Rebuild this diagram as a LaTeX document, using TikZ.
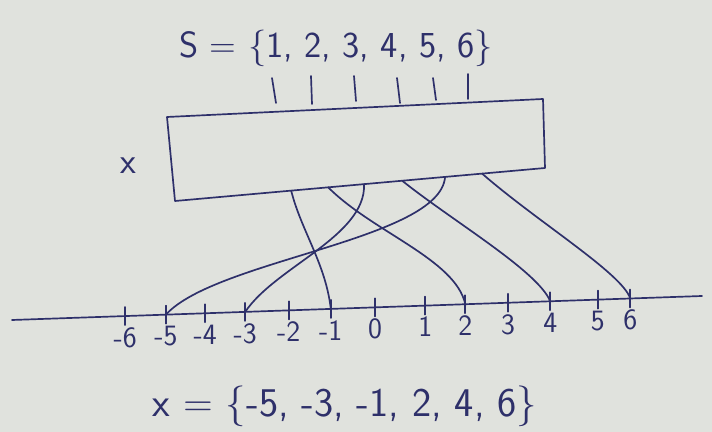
\documentclass[tikz,border=0pt]{standalone}
\usetikzlibrary{positioning}
\definecolor{papercol}{HTML}{E0E2DD}
\definecolor{inkcol}{HTML}{2E306A}
\tikzset{
  ink/.style={draw=inkcol, line width=1.2pt, line cap=round, line join=round},
  setlbl/.style={text=inkcol, font=\sffamily\fontsize{26}{30}\selectfont, inner sep=0pt},
  numlbl/.style={text=inkcol, font=\sffamily\fontsize{21}{24}\selectfont, inner sep=1pt},
}

\begin{document}
\begin{tikzpicture}[x=0.025cm, y=-0.025cm]
  \fill[papercol] (0,0) rectangle (712,432);
  \useasboundingbox (0,0) rectangle (712,432);
  % sample space
  \node[setlbl] (S) at (336,48) {S = \{1, 2, 3, 4, 5, 6\}};
  \foreach \xa/\ya/\xb/\yb in {272/78/276/103, 311/76/312/104, 354/76/356/101,
                                397/78/400/103, 433/78/436/100, 468/74/468/99}
    \draw[ink] (\xa,\ya) -- (\xb,\yb);
  % the box for x
  \coordinate (tl) at (167,117);
  \coordinate (tr) at (543,99);
  \coordinate (br) at (545,168);
  \coordinate (bl) at (175,201);
  \draw[ink] (tl) -- (tr) -- (br) -- (bl) -- cycle;
  \node[setlbl] (X) at (128,166) {x};
  \foreach \p [count=\i] in {0.314,0.414,0.511,0.614,0.730,0.830}
    \path (bl) -- (br) coordinate[pos=\p] (b\i);
  % number line
  \coordinate (axL) at (12,320);
  \coordinate (axR) at (702,296);
  \draw[ink] (axL) -- (axR);
  \foreach \p/\n in {0.164/-6, 0.223/-5, 0.280/-4, 0.338/-3, 0.401/-2, 0.462/-1, 0.526/0,
                     0.599/1, 0.657/2, 0.719/3, 0.780/4, 0.849/5, 0.896/6}
  {
    \path (axL) -- (axR) coordinate[pos=\p] (t\n);
    \draw[ink] (t\n) ++(0,-9) -- ++(0,18);
    \node[numlbl, below=7pt of t\n] (n\n) {\n};
  }
  % mapping
  \draw[ink] (b1) .. controls +(10,40) and +(-5,-45) .. (t-1);
  \draw[ink] (b2) .. controls +(45,45) and +(-10,-45) .. (t2);
  \draw[ink] (b3) .. controls +(2,52) and +(30,-45) .. (t-3);
  \draw[ink] (b4) .. controls +(50,40) and +(-12,-30) .. (t4);
  \draw[ink] (b5) .. controls +(-5,63) and +(50,-55) .. (t-5);
  \draw[ink] (b6) .. controls +(55,48) and +(-8,-25) .. (t6);
  \node[setlbl, font=\sffamily\fontsize{29}{32}\selectfont] (Xset) at (345,406)
    {x = \{-5, -3, -1, 2, 4, 6\}};
\end{tikzpicture}
\end{document}
